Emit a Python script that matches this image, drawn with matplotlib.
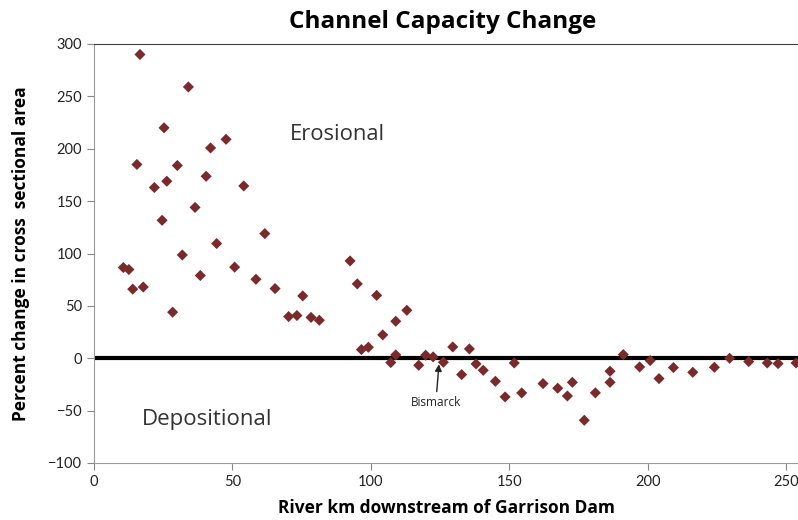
import numpy as np
import matplotlib.pyplot as plt

# 河道断面变化数据
river_km = [10.6, 12.6, 14.0, 15.5, 16.6, 17.8, 21.8, 24.6, 25.3, 26.3, 28.4,
            30.1, 31.9, 34.1, 36.5, 38.4, 40.5, 42.1, 44.3, 47.7, 50.8, 54.1,
            58.5, 61.7, 65.4, 70.3, 73.3, 75.4, 78.4, 81.4, 92.5, 95.1, 96.6,
            99.1, 102.1, 104.3, 107.2, 109.0, 109.0, 113.0, 117.3, 119.8, 122.5,
            126.2, 129.6, 132.8, 135.6, 138.0, 140.6, 145.0, 148.5, 151.8, 154.5,
            162.2, 167.5, 171.0, 172.8, 177.1, 181.1, 186.4, 186.4, 191.2, 197.1,
            200.9, 204.1, 209.3, 216.3, 224.1, 229.6, 236.5, 243.2, 247.1, 253.6]
pct_change = [86.6, 84.7, 66, 185, 290, 68, 163, 131.7, 220, 169, 44,
              184, 98.6, 259, 144, 79, 173.7, 200.8, 109.5, 209, 87, 164.5,
              75.4, 119, 66.5, 39.8, 40.8, 59.5, 39, 36.3, 92.9, 71, 8.3,
              10.5, 60, 22.3, -4.1, 3.2, 35.3, 45.8, -6.7, 2.9, 1.3,
              -3.8, 10.8, -15.6, 8.9, -5.4, -11.5, -22, -36.9, -4.5, -33.1,
              -24.2, -28.6, -36, -23, -59.2, -33, -23, -12.4, 3.5, -8.3,
              -2.2, -19.4, -8.9, -13.4, -8.6, 0, -3.2, -4.5, -5.1, -4.5]

x_ticks = [0, 50, 100, 150, 200, 250]
y_ticks = [-100, -50, 0, 50, 100, 150, 200, 250, 300]

# 俾斯麦位置
bismarck_xy = (124.6, -5.7)

fig = plt.figure(figsize=(7.98, 5.20), dpi=100)
ax = fig.add_axes([94 / 798, 1 - 463 / 520, 1 - 94 / 798, 419 / 520])

ax.scatter(river_km, pct_change, marker='D', s=32, color='#7a2a2a',
           edgecolors='none', zorder=3)
ax.axhline(0, color='black', linewidth=3, zorder=2)

ax.set_xlim(0, 254.3)
ax.set_ylim(-100, 300)
ax.set_xticks(x_ticks)
ax.set_yticks(y_ticks)
ax.tick_params(axis='both', direction='out', length=5, color='#888888',
               labelsize=10.5, labelcolor='#222222')
for lab in ax.get_xticklabels() + ax.get_yticklabels():
    lab.set_fontfamily('Lato')

ax.spines['left'].set_color('#999999')
ax.spines['bottom'].set_color('#999999')
ax.spines['top'].set_color('#404040')
ax.spines['right'].set_visible(False)

ax.set_xlabel('River km downstream of Garrison Dam', fontsize=12.5,
              fontweight='bold', family='Open Sans', labelpad=7)
ax.set_ylabel('Percent change in cross  sectional area', fontsize=12.5,
              fontweight='bold', family='Open Sans', labelpad=13)
fig.text(0.555, 0.957, 'Channel Capacity Change', ha='center', va='center',
         fontsize=17.5, fontweight='bold', family='Open Sans')

ax.text(88, 214, 'Erosional', fontsize=15.8, color='#333333',
        family='Open Sans', ha='center', va='center')
ax.text(41, -58, 'Depositional', fontsize=16, color='#333333',
        family='Open Sans', ha='center', va='center')

ax.annotate('Bismarck', xy=bismarck_xy, xytext=(123.5, -42),
            ha='center', va='center', fontsize=8.5, family='Open Sans',
            color='#222222',
            arrowprops=dict(arrowstyle='-|>', color='#222222', lw=1,
                            shrinkA=1, shrinkB=0, mutation_scale=10))

fig.savefig('out.png', dpi=100)
